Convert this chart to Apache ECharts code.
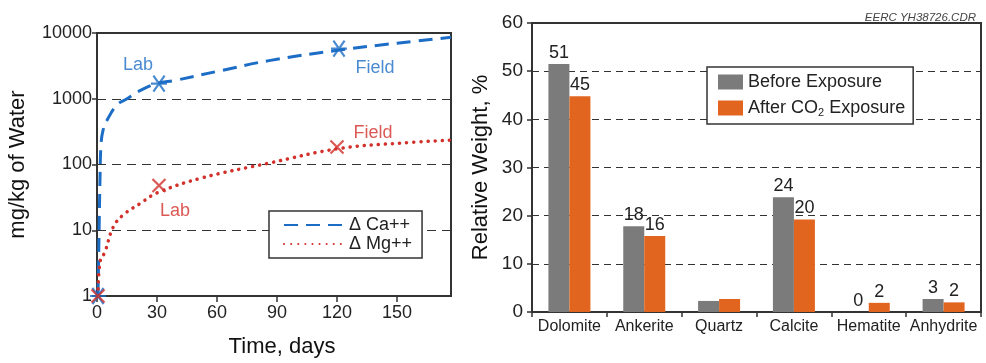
<!DOCTYPE html>
<html>
<head>
<meta charset="utf-8">
<script src="https://cdn.jsdelivr.net/npm/echarts@6/dist/echarts.min.js"></script>
<style>
  html, body { margin: 0; padding: 0; background: #fff; }
  #chart { width: 986px; height: 363px; }
</style>
</head>
<body>
<div id="chart"></div>
<script>
// left panel: concentration vs time (log scale)
var caCurve = [[0.5, 1], [1, 8], [1.5, 60], [2, 200], [3, 330], [5, 470], [10, 810], [15, 1000], [22, 1350], [30, 1700], [39, 1900], [60, 2600], [86, 3800], [121, 5500], [150, 7000], [177, 8600]];
var mgCurve = [[0.5, 1], [1.5, 3.3], [4, 4.7], [8, 11], [13, 17], [22, 26], [30, 37], [52, 62], [86, 105], [121, 175], [150, 210], [177, 235]];
var caMarks = [[0.5, 1], [31, 1700], [121, 5800]];
var mgMarks = [[0.5, 1], [31, 48], [120, 185]];
var caMarkLabels = ['', 'Lab', 'Field'];
var mgMarkLabels = ['', 'Lab', 'Field'];

// right panel: mineral composition
var minerals = ['Dolomite', 'Ankerite', 'Quartz', 'Calcite', 'Hematite', 'Anhydrite'];
var before = [51.5, 17.8, 2.3, 23.8, 0, 2.7];
var after = [44.8, 15.8, 2.7, 19.2, 1.9, 2.0];
var beforeLabels = ['51', '18', '', '24', '0', '3'];
var afterLabels = ['45', '16', '', '20', '2', '2'];

var BLUE = '#1c6dc6', RED = '#d2302b', GREY = '#7b7b7b', ORANGE = '#e2651f';
var FONT = 'Liberation Sans';

var myChart = echarts.init(document.getElementById('chart'));

function markData(pts, labels, offsets) {
  return pts.map(function (p, i) {
    return {
      value: p,
      label: { show: labels[i] !== '', formatter: labels[i], offset: offsets[i] }
    };
  });
}

var option = {
  animation: false,
  textStyle: { fontFamily: FONT },
  title: {
    text: 'EERC YH38726.CDR',
    right: 5, top: 7,
    textStyle: { fontSize: 11.5, fontStyle: 'italic', fontWeight: 'normal', color: '#444', fontFamily: FONT }
  },
  legend: [{
    data: ['Δ Ca++', 'Δ Mg++'],
    left: 269, top: 211, width: 161,
    orient: 'vertical',
    padding: [5, 10, 5, 14],
    itemWidth: 60, itemHeight: 10, itemGap: 1,
    itemStyle: { opacity: 0 },
    borderColor: '#333', borderWidth: 1.5,
    backgroundColor: '#fff',
    textStyle: { fontSize: 18, color: '#222', fontFamily: FONT }
  }, {
    data: ['Before Exposure', 'After CO2 Exposure'],
    left: 707, top: 67,
    orient: 'vertical',
    padding: [6, 8, 6, 11],
    itemWidth: 25, itemHeight: 15, itemGap: 8,
    borderColor: '#333', borderWidth: 1.5,
    backgroundColor: '#fff',
    icon: 'rect',
    formatter: function (name) {
      return name.replace('CO2', 'CO{sub|2}');
    },
    textStyle: {
      fontSize: 18, color: '#222', fontFamily: FONT,
      rich: { sub: { fontSize: 11, verticalAlign: 'bottom', padding: [9, 0, 0, 0], fontFamily: FONT, color: '#222' } }
    }
  }],
  grid: [
    { left: 97, top: 33, width: 354, height: 269, show: true, borderColor: '#333', borderWidth: 2, containLabel: false },
    { left: 532, top: 23, width: 449, height: 289, show: true, borderColor: '#333', borderWidth: 2, containLabel: false }
  ],
  xAxis: [{
    gridIndex: 0, type: 'value', min: 0, max: 177, interval: 30,
    name: 'Time, days', nameLocation: 'middle', nameGap: 40,
    nameTextStyle: { fontSize: 22, color: '#111', fontFamily: FONT, padding: [0, 0, 0, 16] },
    axisLine: { lineStyle: { color: '#333', width: 2 } },
    axisTick: { show: true, length: 6, lineStyle: { color: '#333', width: 1.5 } },
    axisLabel: { fontSize: 18, color: '#222', margin: 8, showMaxLabel: false },
    splitLine: { show: false }
  }, {
    gridIndex: 1, type: 'category', data: minerals,
    axisLine: { lineStyle: { color: '#333', width: 2 } },
    axisTick: { show: true, length: 5, lineStyle: { color: '#333', width: 1.5 } },
    axisLabel: { fontSize: 16, color: '#222', margin: 7, interval: 0 }
  }],
  yAxis: [{
    gridIndex: 0, type: 'log', logBase: 10, min: 1, max: 10000,
    name: 'mg/kg of Water', nameLocation: 'middle', nameGap: 68,
    nameTextStyle: { fontSize: 22, color: '#111', fontFamily: FONT },
    axisLine: { lineStyle: { color: '#333', width: 2 } },
    axisTick: { show: true, length: 5, lineStyle: { color: '#333', width: 1.5 } },
    axisLabel: { fontSize: 18, color: '#222', margin: 5, formatter: function (v) { return String(v); } },
    minorTick: { show: false },
    splitLine: { show: true, showMinLine: false, showMaxLine: false, lineStyle: { color: '#333', type: [9, 6], width: 1.2 } }
  }, {
    gridIndex: 1, type: 'value', min: 0, max: 60, interval: 10,
    name: 'Relative Weight, %', nameLocation: 'middle', nameGap: 40,
    nameTextStyle: { fontSize: 22, color: '#111', fontFamily: FONT },
    axisLine: { show: true, lineStyle: { color: '#333', width: 2 } },
    axisTick: { show: true, length: 5, lineStyle: { color: '#333', width: 1.5 } },
    axisLabel: { fontSize: 19, color: '#222', margin: 9 },
    splitLine: { show: true, showMinLine: false, showMaxLine: false, lineStyle: { color: '#333', type: [7, 5], width: 1.2 } }
  }],
  series: [{
    name: 'Δ Ca++', type: 'line', xAxisIndex: 0, yAxisIndex: 0,
    data: caCurve, smooth: 0.4, symbol: 'none',
    itemStyle: { color: BLUE },
    lineStyle: { color: BLUE, width: 3, type: [14, 8] }
  }, {
    name: 'Δ Mg++', type: 'line', xAxisIndex: 0, yAxisIndex: 0,
    data: mgCurve, smooth: 0.4, symbol: 'none',
    itemStyle: { color: RED },
    lineStyle: { color: RED, width: 3.5, type: [0.1, 7], cap: 'round' }
  }, {
    type: 'scatter', xAxisIndex: 0, yAxisIndex: 0,
    symbol: 'path://M0,5L10,5M1.5,1.5L8.5,8.5M8.5,1.5L1.5,8.5',
    symbolSize: 16,
    itemStyle: { color: 'transparent', borderColor: BLUE, borderWidth: 2.2 },
    label: { position: 'inside', color: BLUE, fontSize: 18 },
    data: markData(caMarks, caMarkLabels, [[0, 0], [-21, -19], [36, 19]]),
    z: 5
  }, {
    type: 'scatter', xAxisIndex: 0, yAxisIndex: 0,
    symbol: 'path://M0,0L10,10M10,0L0,10',
    symbolSize: 13,
    itemStyle: { color: 'transparent', borderColor: RED, borderWidth: 2.2 },
    label: { position: 'inside', color: RED, fontSize: 18 },
    data: markData(mgMarks, mgMarkLabels, [[0, 0], [16, 26], [36, -14]]),
    z: 5
  }, {
    name: 'Before Exposure', type: 'bar', xAxisIndex: 1, yAxisIndex: 1,
    data: before, barWidth: 21, barGap: 0,
    itemStyle: { color: GREY },
    label: {
      show: true, position: 'top', distance: 2, fontSize: 18, color: '#222',
      formatter: function (p) { return beforeLabels[p.dataIndex]; }
    }
  }, {
    name: 'After CO2 Exposure', type: 'bar', xAxisIndex: 1, yAxisIndex: 1,
    data: after, barWidth: 21, barGap: 0,
    itemStyle: { color: ORANGE },
    label: {
      show: true, position: 'top', distance: 2, fontSize: 18, color: '#222',
      formatter: function (p) { return afterLabels[p.dataIndex]; }
    }
  }]
};

myChart.setOption(option);
</script>
</body>
</html>
